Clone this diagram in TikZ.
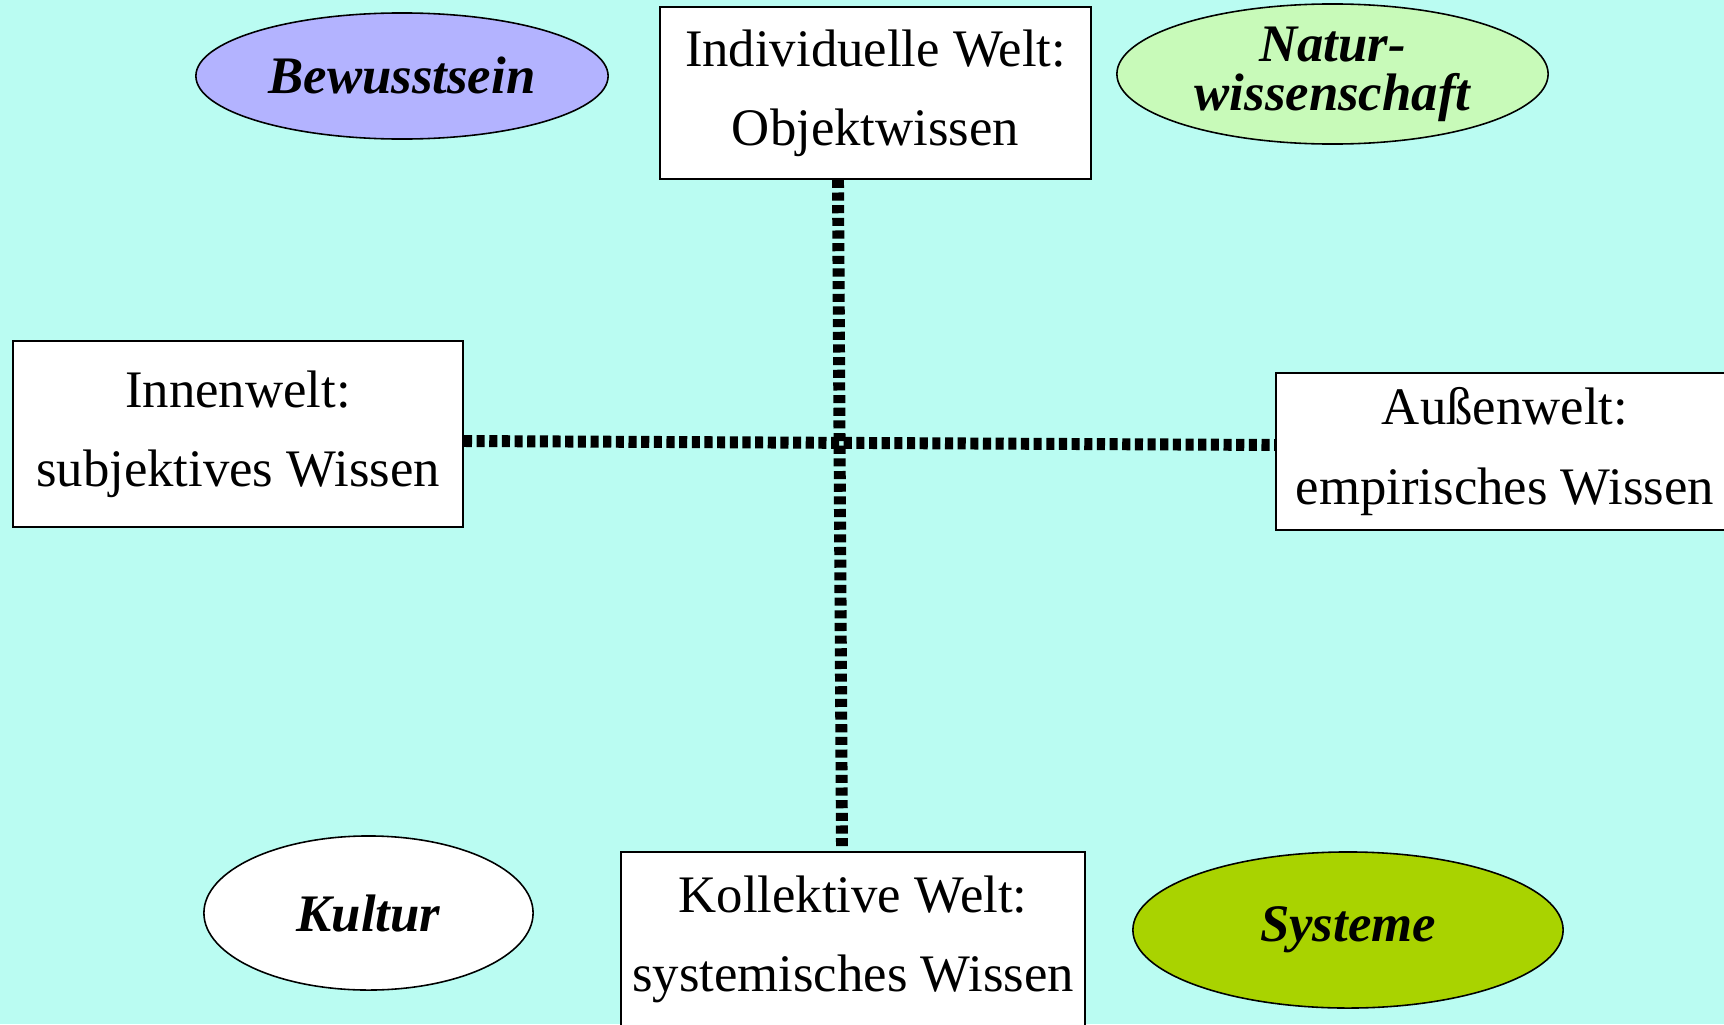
\documentclass[tikz,border=0pt]{standalone}
\usepackage{fontspec}
\setmainfont{Liberation Serif}
\usetikzlibrary{shapes.geometric,positioning}
\definecolor{hintergrund}{HTML}{BAFCF2}
\definecolor{lila}{HTML}{B3B3FF}
\definecolor{hellgruen}{HTML}{C8FAB9}
\definecolor{gelbgruen}{HTML}{A9D300}
\tikzset{
    %Define style for boxes
    feld/.style={
           rectangle,
           draw=black, line width=0.45pt,
           fill=white,
           inner sep=0pt,
           align=center,
           font=\fontsize{15}{22.5}\selectfont},
    %Define style for ellipses
    sphaere/.style={
           ellipse,
           draw=black, line width=0.45pt,
           inner sep=0pt,
           align=center,
           font=\fontsize{15}{14}\selectfont\bfseries\itshape},
    % Define line style
    trenn/.style={
           line width=3.4pt,
           dash pattern=on 2.3pt off 1.3pt}
}
\begin{document}
\begin{tikzpicture}[x=0.01cm,y=-0.01cm]
\useasboundingbox (0,0) rectangle (1724,1024);
\clip (0,0) rectangle (1724,1024);
\fill[hintergrund] (0,0) rectangle (1724,1024);
 %boxes
\node[feld, minimum width=4.31cm, minimum height=1.72cm] (indiv) at (875.5,93) {Individuelle Welt:\\Objektwissen};
\node[feld, minimum width=4.50cm, minimum height=1.86cm] (innen) at (238,434) {Innenwelt:\\subjektives Wissen};
\node[feld, minimum width=4.58cm, minimum height=1.57cm] (aussen) at (1505,451.5) {Außenwelt:\\empirisches Wissen};
\node[feld, minimum width=4.64cm, minimum height=1.74cm] (kollektiv) at (853,939) {Kollektive Welt:\\systemisches Wissen};
 %ellipses
\node[sphaere, fill=lila, minimum width=4.12cm, minimum height=1.26cm] (bewusst) at (402,76) {Bewusstsein};
\node[sphaere, fill=hellgruen, minimum width=4.31cm, minimum height=1.40cm] (natur) at (1332.5,74) {Natur-\\wissenschaft};
\node[sphaere, fill=white, minimum width=3.29cm, minimum height=1.54cm] (kultur) at (368.5,913) {Kultur};
\node[sphaere, fill=gelbgruen, minimum width=4.30cm, minimum height=1.56cm] (systeme) at (1348,930) {Systeme};
 %axes
\draw[trenn] ([xshift=-0.375cm]indiv.south) -- ([xshift=-0.11cm,yshift=0.05cm]kollektiv.north);
\draw[trenn] ([yshift=-0.07cm]innen.east) -- ([yshift=0.065cm]aussen.west);
\end{tikzpicture}
\end{document}
